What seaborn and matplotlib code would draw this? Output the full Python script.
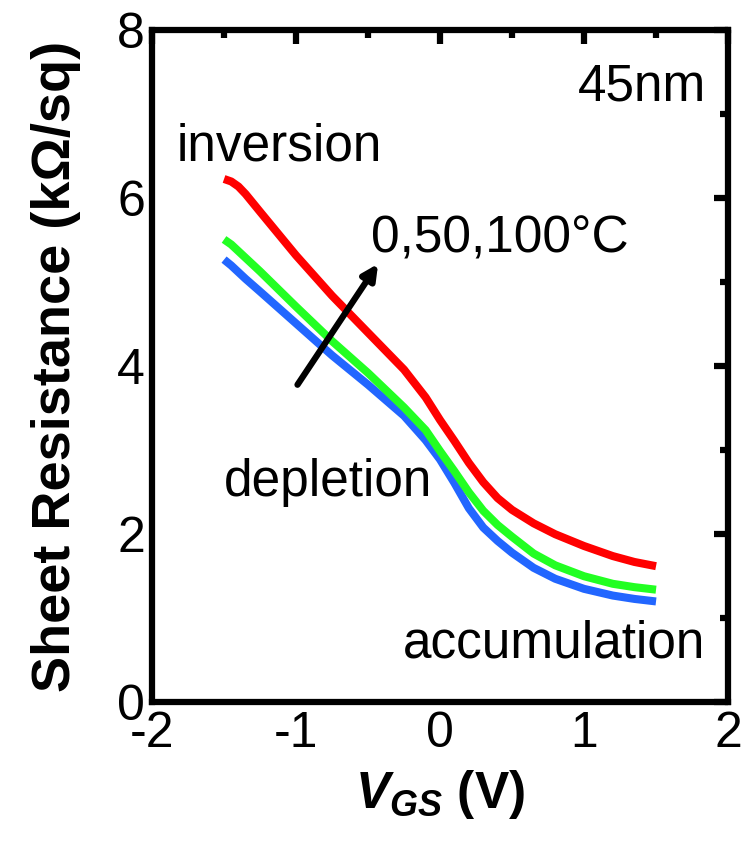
import numpy as np
import pandas as pd
import matplotlib
matplotlib.use("Agg")
import matplotlib.pyplot as plt
from matplotlib.ticker import MultipleLocator
import seaborn as sns

# ---- data ----
vgs = [-1.5, -1.45, -1.4, -1.35, -1.25, -1.0, -0.75, -0.5, -0.25, -0.1, 0.0, 0.1, 0.2, 0.3,
       0.4, 0.5, 0.65, 0.8, 1.0, 1.2, 1.35, 1.5]
r_100C = [6.23, 6.20, 6.14, 6.05, 5.84, 5.32, 4.84, 4.40, 3.96, 3.63, 3.36, 3.11, 2.85, 2.62,
          2.43, 2.29, 2.13, 2.00, 1.86, 1.74, 1.67, 1.62]
r_50C = [5.51, 5.45, 5.37, 5.29, 5.13, 4.71, 4.30, 3.92, 3.51, 3.24, 2.99, 2.75, 2.50, 2.28,
         2.11, 1.97, 1.77, 1.63, 1.50, 1.41, 1.37, 1.34]
r_0C = [5.27, 5.20, 5.12, 5.04, 4.89, 4.51, 4.13, 3.78, 3.41, 3.12, 2.89, 2.61, 2.31, 2.08,
        1.92, 1.78, 1.60, 1.47, 1.35, 1.27, 1.23, 1.20]
temps = ["0°C", "50°C", "100°C"]
colors = ["#2266FF", "#22FF22", "#FF0000"]

df = pd.concat([
    pd.DataFrame({"VGS": vgs, "R": r, "T": t})
    for r, t in zip([r_0C, r_50C, r_100C], temps)
])

sns.set_style("white")
plt.rcParams["font.family"] = ["Liberation Sans", "DejaVu Sans"]
plt.rcParams["mathtext.fontset"] = "custom"
plt.rcParams["mathtext.it"] = "Liberation Sans:italic:bold"
plt.rcParams["mathtext.rm"] = "Liberation Sans:bold"
plt.rcParams["axes.unicode_minus"] = False
for k in ["text.color", "axes.labelcolor", "xtick.color", "ytick.color", "axes.edgecolor"]:
    plt.rcParams[k] = "black"

fig = plt.figure(figsize=(7.49, 8.42), dpi=100)
ax = fig.add_axes([0.203, 0.166, 0.769, 0.798])

sns.lineplot(data=df, x="VGS", y="R", hue="T", hue_order=temps,
             palette=colors, linewidth=5.8, legend=False, ax=ax,
             sort=True, estimator=None)
for ln in ax.get_lines():
    ln.set_solid_joinstyle("round")
    ln.set_solid_capstyle("butt")

ax.set_xlim(-2, 2)
ax.set_ylim(0, 8)
ax.xaxis.set_major_locator(MultipleLocator(1))
ax.xaxis.set_minor_locator(MultipleLocator(0.5))
ax.yaxis.set_major_locator(MultipleLocator(2))
ax.yaxis.set_minor_locator(MultipleLocator(1))
ax.tick_params(which="both", direction="in", top=True, right=True,
               width=4.5, labelsize=36, color="black", labelcolor="black")
ax.tick_params(which="major", length=10)
ax.tick_params(which="minor", length=6)
ax.tick_params(axis="x", which="major", pad=6)
ax.tick_params(axis="y", which="major", pad=5)
for s in ax.spines.values():
    s.set_linewidth(4.5)
    s.set_color("black")

ax.set_ylabel("Sheet Resistance (kΩ/sq)", fontsize=39, fontweight="bold", labelpad=26)
ax.set_xlabel(r"$\mathit{V}_{\mathit{GS}}$ (V)", fontsize=37, fontweight="bold", labelpad=8)

fs = 37
ax.text(-1.83, 6.45, "inversion", fontsize=fs, ha="left", va="baseline")
ax.text(-0.48, 5.35, "0,50,100°C", fontsize=fs, ha="left", va="baseline")
ax.text(-1.50, 2.45, "depletion", fontsize=fs, ha="left", va="baseline")
ax.text(-0.26, 0.53, "accumulation", fontsize=fs, ha="left", va="baseline")
ax.text(0.96, 7.17, "45nm", fontsize=fs, ha="left", va="baseline")

ax.annotate("", xy=(-0.43, 5.22), xytext=(-0.99, 3.78),
            arrowprops=dict(arrowstyle="-|>,head_length=0.9,head_width=0.45",
                            lw=4.5, color="black", shrinkA=0, shrinkB=0))

fig.savefig("out.png", dpi=100)
